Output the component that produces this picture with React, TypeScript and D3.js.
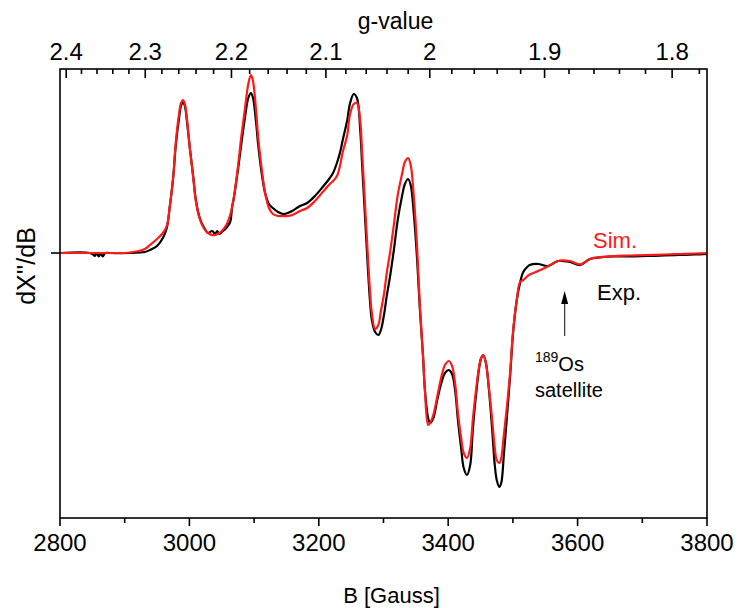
import * as d3 from "d3";

// magnetic field grid (Gauss), shared by both traces
const field = [
  2800, 2846, 2851, 2854, 2857, 2860, 2863, 2866, 2870, 2877, 2908, 2931, 2939, 2950, 2959, 2965,
  2970, 2975, 2979, 2984, 2987, 2990, 2993, 2996, 3001, 3006, 3010, 3016, 3023, 3029, 3035, 3040,
  3043, 3046, 3050, 3057, 3063, 3066, 3069, 3075, 3080, 3086, 3091, 3095, 3098, 3103, 3106, 3111,
  3117, 3123, 3129, 3137, 3145, 3152, 3159, 3171, 3182, 3194, 3206, 3217, 3222, 3228, 3233, 3237,
  3244, 3248, 3254, 3259, 3264, 3267, 3270, 3273, 3276, 3279, 3282, 3287, 3292, 3296, 3301, 3305,
  3310, 3316, 3322, 3329, 3333, 3338, 3342, 3347, 3352, 3356, 3361, 3364, 3369, 3372, 3377, 3383,
  3389, 3395, 3401, 3406, 3411, 3415, 3420, 3424, 3429, 3434, 3438, 3443, 3448, 3451, 3454, 3458,
  3463, 3468, 3472, 3475, 3479, 3482, 3486, 3491, 3496, 3500, 3506, 3511, 3516, 3522, 3526, 3539,
  3554, 3570, 3588, 3604, 3619, 3635, 3655, 3681, 3707, 3735, 3758, 3781, 3800,
];

// experimental derivative spectrum (a.u.)
const expSignal = [
  0, 0, -0.015, -0.03, 0, -0.035, -0.005, -0.035, 0, 0, 0, 0.01, 0.03, 0.07, 0.15, 0.25,
  0.48, 0.76, 1.08, 1.35, 1.47, 1.51, 1.47, 1.33, 1.03, 0.76, 0.53, 0.35, 0.25, 0.2, 0.22, 0.19,
  0.22, 0.19, 0.21, 0.25, 0.31, 0.46, 0.56, 0.83, 1.08, 1.36, 1.55, 1.6, 1.56, 1.31, 1.1, 0.83,
  0.6, 0.49, 0.45, 0.41, 0.39, 0.4, 0.42, 0.47, 0.5, 0.57, 0.66, 0.75, 0.8, 0.9, 1.01, 1.13,
  1.33, 1.49, 1.59, 1.55, 1.23, 0.88, 0.53, 0.18, -0.17, -0.47, -0.67, -0.79, -0.82, -0.77, -0.61, -0.43,
  -0.24, 0.03, 0.33, 0.58, 0.69, 0.74, 0.68, 0.38, -0.07, -0.54, -1.02, -1.37, -1.65, -1.7, -1.65, -1.47,
  -1.31, -1.2, -1.17, -1.21, -1.39, -1.67, -1.95, -2.15, -2.22, -2.12, -1.77, -1.42, -1.14, -1.05, -1.02, -1.09,
  -1.37, -1.77, -2.12, -2.27, -2.34, -2.3, -2.02, -1.62, -1.2, -0.82, -0.47, -0.3, -0.19, -0.14, -0.12, -0.11,
  -0.13, -0.08, -0.09, -0.12, -0.06, -0.045, -0.035, -0.035, -0.03, -0.025, -0.02, -0.015, -0.01,
];

// simulated spectrum (a.u.)
const simSignal = [
  0, 0, 0, 0, 0, 0, 0, 0, 0, 0, 0.005, 0.04, 0.08, 0.14, 0.2, 0.27,
  0.48, 0.76, 1.11, 1.39, 1.5, 1.53, 1.49, 1.35, 1.03, 0.75, 0.52, 0.34, 0.24, 0.2, 0.18, 0.18,
  0.19, 0.2, 0.22, 0.28, 0.38, 0.46, 0.57, 0.86, 1.15, 1.45, 1.69, 1.78, 1.73, 1.43, 1.18, 0.88,
  0.6, 0.45, 0.39, 0.37, 0.37, 0.37, 0.38, 0.42, 0.45, 0.52, 0.61, 0.69, 0.72, 0.77, 0.88, 1.01,
  1.18, 1.38, 1.49, 1.5, 1.32, 1.0, 0.66, 0.3, -0.05, -0.37, -0.6, -0.76, -0.72, -0.58, -0.4, -0.2,
  0.0, 0.28, 0.58, 0.8, 0.91, 0.95, 0.88, 0.55, 0.05, -0.5, -1.02, -1.37, -1.72, -1.7, -1.62, -1.44,
  -1.25, -1.12, -1.08, -1.13, -1.32, -1.6, -1.85, -2.0, -2.05, -1.95, -1.67, -1.37, -1.13, -1.05, -1.02, -1.09,
  -1.35, -1.67, -1.95, -2.07, -2.1, -2.05, -1.82, -1.52, -1.17, -0.8, -0.47, -0.29, -0.27, -0.235, -0.215, -0.18,
  -0.135, -0.08, -0.08, -0.113, -0.06, -0.04, -0.03, -0.025, -0.02, -0.015, -0.01, -0.005, 0,
];

const fieldTicks = [2800, 3000, 3200, 3400, 3600, 3800];
const gTicks = [2.4, 2.3, 2.2, 2.1, 2.0, 1.9, 1.8];
const G_FACTOR = 6743; // B[G] = G_FACTOR / g  (X-band, ~9.44 GHz)

const width = 739;
const height = 608;
const margin = { top: 69, right: 32, bottom: 90, left: 60 };
const x0 = margin.left;
const x1 = width - margin.right;
const y0 = margin.top;
const y1 = height - margin.bottom;

const FONT = "'Liberation Sans', Arial, sans-serif";
const RED = "#ff1a1a";
const TICK_FS = 24;

export default function App() {
  const x = d3.scaleLinear().domain([2800, 3800]).range([x0, x1]);
  const y = d3.scaleLinear().domain([-2.65, 1.84]).range([y1, y0]);

  const line = d3
    .line<number>()
    .x((_, i) => x(field[i]))
    .y((d) => y(d))
    .curve(d3.curveCatmullRom.alpha(0.5));

  const minorField = d3.range(2900, 3800, 200);
  const minorG = d3
    .range(240, 177, -2)
    .map((v) => v / 100)
    .filter((g) => Math.round(g * 100) % 10 !== 0);

  const midX = (x0 + x1) / 2 + 8;

  return (
    <svg
      width={width}
      height={height}
      style={{ position: "absolute", left: 0, top: 0, background: "#fff" }}
      fontFamily={FONT}
    >
      {/* traces */}
      <path d={line(expSignal) ?? ""} fill="none" stroke="#000" strokeWidth={2.2} strokeLinejoin="round" />
      <path d={line(simSignal) ?? ""} fill="none" stroke={RED} strokeWidth={2.2} strokeLinejoin="round" />

      {/* frame */}
      <rect x={x0} y={y0} width={x1 - x0} height={y1 - y0} fill="none" stroke="#000" strokeWidth={1.6} />

      {/* bottom axis */}
      {fieldTicks.map((t) => (
        <g key={`b${t}`}>
          <line x1={x(t)} x2={x(t)} y1={y1} y2={y1 + 8} stroke="#000" strokeWidth={1.6} />
          <text x={x(t)} y={y1 + 33} textAnchor="middle" fontSize={TICK_FS}>{t}</text>
        </g>
      ))}
      {minorField.map((t) => (
        <line key={`bm${t}`} x1={x(t)} x2={x(t)} y1={y1} y2={y1 + 5} stroke="#000" strokeWidth={1.6} />
      ))}
      <text x={midX} y={y1 + 85} textAnchor="middle" fontSize={22}>B [Gauss]</text>

      {/* top axis: g-value */}
      {gTicks.map((g) => (
        <g key={`g${g}`}>
          <line x1={x(G_FACTOR / g)} x2={x(G_FACTOR / g)} y1={y0} y2={y0 + 9} stroke="#000" strokeWidth={1.6} />
          <text x={x(G_FACTOR / g)} y={y0 - 9} textAnchor="middle" fontSize={TICK_FS}>{g === 2 ? "2" : g.toFixed(1)}</text>
        </g>
      ))}
      {minorG.map((g) => (
        <line key={`gm${g}`} x1={x(G_FACTOR / g)} x2={x(G_FACTOR / g)} y1={y0} y2={y0 + 5} stroke="#000" strokeWidth={1.6} />
      ))}
      <text x={midX + 4} y={29} textAnchor="middle" fontSize={23}>g-value</text>

      {/* left axis: zero tick only */}
      <line x1={x0 - 9} x2={x0} y1={y(0)} y2={y(0)} stroke="#000" strokeWidth={1.6} />
      <text transform={`translate(35, 266) rotate(-90)`} textAnchor="middle" fontSize={25}>dX''/dB</text>

      {/* annotations */}
      <text x={593} y={248} fontSize={22} fill={RED}>Sim.</text>
      <text x={597} y={300} fontSize={22} fill="#000">Exp.</text>
      <line x1={x(3580)} x2={x(3580)} y1={336} y2={300} stroke="#333" strokeWidth={1.2} />
      <path
        d={`M${x(3580)},291 L${x(3580) - 3.5},304 L${x(3580) + 3.5},304 Z`}
        fill="#000"
      />
      <text x={535} y={371} fontSize={20}>
        <tspan fontSize={14} dy={-9}>189</tspan>
        <tspan dy={9}>Os</tspan>
      </text>
      <text x={535} y={397} fontSize={20}>satellite</text>
    </svg>
  );
}
